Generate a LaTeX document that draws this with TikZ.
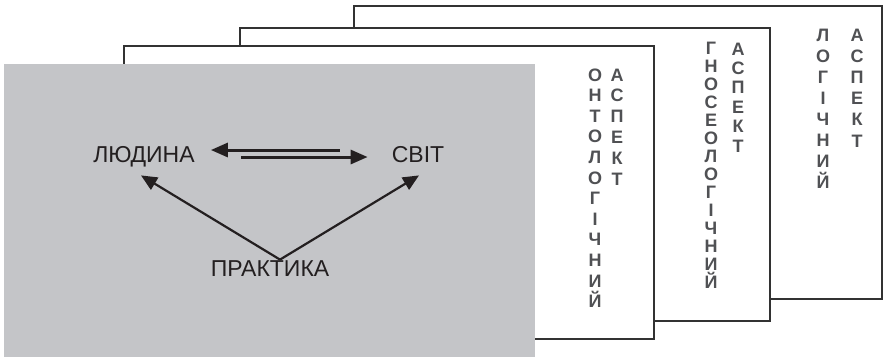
\documentclass[tikz,border=0pt]{standalone}
\usepackage{fontspec}
\setmainfont{Liberation Sans}
\usetikzlibrary{arrows.meta}

\definecolor{panelgray}{RGB}{196,197,200}
\definecolor{inkdark}{RGB}{35,31,32}
\definecolor{lettergray}{RGB}{80,81,84}
\definecolor{framegray}{RGB}{50,50,50}

\tikzset{
    sheet/.style={draw=framegray, line width=1.2pt, fill=white},
    label/.style={text=inkdark, font=\fontsize{23}{26}\selectfont, inner sep=2pt, text height=16.4pt, text depth=0pt},
    letter/.style={text=lettergray, font=\bfseries\fontsize{18}{20}\selectfont, inner sep=0pt, anchor=base},
    bigarrow/.style={draw=inkdark, line width=3pt, -{Triangle[length=17pt,width=14pt]}},
    slimarrow/.style={draw=inkdark, line width=2.2pt, -{Triangle[length=16pt,width=14pt]}}
}

\begin{document}
\begin{tikzpicture}[x=1pt,y=-1pt]
        \useasboundingbox (0,0) rectangle (886,357);

        %stacked sheets, back to front
        \draw[sheet] (354,6) rectangle (882,299);
        \draw[sheet] (240,28) rectangle (770,321);
        \draw[sheet] (124,46) rectangle (654,339);
        \fill[panelgray] (4,64) rectangle (535,357);

        %vertical captions of the sheets
        \foreach \l [count=\i from 0] in {О,Н,Т,О,Л,О,Г,І,Ч,Н,И,Й}
            \node[letter] (onto-\i) at (595,{81+20.6*\i}) {\l};
        \foreach \l [count=\i from 0] in {А,С,П,Е,К,Т}
            \node[letter] (ontoasp-\i) at (617,{81+20.8*\i}) {\l};
        \foreach \l [count=\i from 0] in {Г,Н,О,С,Е,О,Л,О,Г,І,Ч,Н,И,Й}
            \node[letter] (gnos-\i) at (711,{54+18.0*\i}) {\l};
        \foreach \l [count=\i from 0] in {А,С,П,Е,К,Т}
            \node[letter] (gnosasp-\i) at (738,{55+19.4*\i}) {\l};
        \foreach \l [count=\i from 0] in {Л,О,Г,І,Ч,Н,И,Й}
            \node[letter] (logic-\i) at (823,{41+21.0*\i}) {\l};
        \foreach \l [count=\i from 0] in {А,С,П,Е,К,Т}
            \node[letter] (logicasp-\i) at (857,{41+21.2*\i}) {\l};

        %the triangle on the gray panel
        \node[label] (ludyna) at (144,154) {ЛЮДИНА};
        \node[label] (svit) at (418,154) {СВІТ};
        \node[label] (praktyka) at (270,268) {ПРАКТИКА};

        \draw[bigarrow, shorten <=50pt, shorten >=14pt] ([yshift=4pt]svit.west) -- ([yshift=4pt]ludyna.east);
        \draw[bigarrow, shorten <=44pt, shorten >=22pt] ([yshift=-3pt]ludyna.east) -- ([yshift=-3pt]svit.west);

        \draw[slimarrow] ([xshift=10pt,yshift=-2pt]praktyka.north) -- ([xshift=-3pt,yshift=-11pt]ludyna.south);
        \draw[slimarrow] ([xshift=10pt,yshift=-2pt]praktyka.north) -- ([xshift=1pt,yshift=-11pt]svit.south);
    \end{tikzpicture}
\end{document}
